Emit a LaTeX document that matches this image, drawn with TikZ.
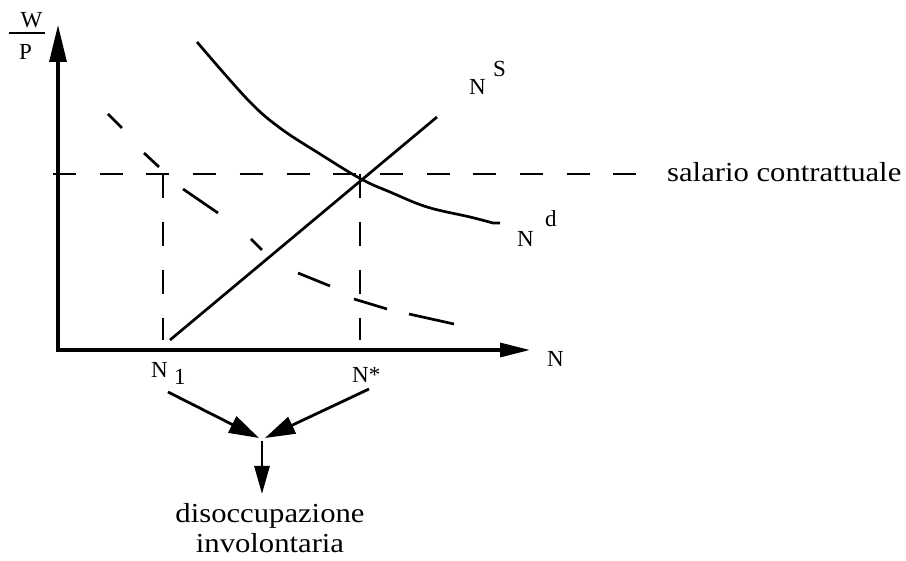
\documentclass[tikz,border=0pt]{standalone}
\usepackage{fontspec}
\setmainfont{Liberation Serif}
\usetikzlibrary{arrows.meta}
\newcommand\labfont{\fontsize{23}{26}\selectfont}
\newcommand\bigfont{\fontsize{27.5}{30}\selectfont}
\newcommand\widetext[1]{\scalebox{1.115}[1]{#1}}
\begin{document}
\begin{tikzpicture}[x=1pt,y=-1pt,
  axis/.style={line width=3.2pt},
  curve/.style={line width=2.7pt},
  dashline/.style={line width=2.9pt, dash pattern=on 23pt off 23.7pt},
  lab/.style={inner sep=0pt, font=\labfont},
  flow/.style={line width=2.8pt, -{Triangle[length=30pt,width=18pt]}}]
\useasboundingbox (0,0) rectangle (906,561);
% coordinates
\coordinate (ytip) at (58,25);
\coordinate (xtip) at (530,350);
\coordinate (ystart) at (58,352);
\coordinate (xstart) at (56,350);
\coordinate (hL) at (53,174);
\coordinate (hR) at (636,174);
\coordinate (v1t) at (163,174);
\coordinate (v1b) at (163,340);
\coordinate (v2t) at (360,174);
\coordinate (v2b) at (360,340);
\coordinate (nsA) at (170,340);
\coordinate (nsB) at (437,117);
% axes
\draw[axis, -{Triangle[length=37pt,width=17pt]}] (ystart) -- (ytip);
\draw[axis, -{Triangle[length=30pt,width=14pt]}] (xstart) -- (xtip);
% dashed guides
\draw[dashline] (hL) -- (hR);
\draw[dashline, dash pattern=on 24pt off 24pt] (v1t) -- (v1b);
\draw[dashline, dash pattern=on 24pt off 24pt] (v2t) -- (v2b);
% supply
\draw[curve] (nsA) -- (nsB);
% demand
\draw[curve] plot[smooth, tension=0.6] coordinates {(197,42) (248,100) (280,128) (320,154) (361,179) (390,192) (427,207) (470,217) (493,223)} -- (500,223);
% shifted demand (irregular dashes)
\draw[curve] (108,114) -- (122,128);
\draw[curve] (144,153) -- (159,167);
\draw[curve] (183,189) -- (218,213);
\draw[curve] (251,239) -- (262,250);
\draw[curve] (298,273) -- (330,286);
\draw[curve] (354,299) -- (387,309);
\draw[curve] (409,314) -- (454,324);
% labels
\node[lab, anchor=base] (W) at (31.5,28) {W};
\node[lab, anchor=base] (P) at (25.5,60) {P};
\draw[line width=2.4pt] (9,33) -- (45,33);
\node[lab, anchor=base west] (xN) at (547,367) {N};
\node[lab, anchor=base west] (NS) at (469,95) {N};
\node[lab, anchor=base west] (NSs) at (493,77) {S};
\node[lab, anchor=base west] (Nd) at (517,247) {N};
\node[lab, anchor=base west] (Nds) at (545,227) {d};
\node[lab, anchor=base west] (N1) at (151,378) {N};
\node[lab, anchor=base west] (N1s) at (174,385) {1};
\node[lab, anchor=base west] (Nstar) at (352,383) {N*};
\node[inner sep=0pt, font=\bigfont, anchor=base west] (sal) at (667,182) {\widetext{salario contrattuale}};
\node[inner sep=0pt, font=\bigfont, anchor=base] (dis) at (270,522) {\widetext{\begin{tabular}[t]{@{}c@{}}disoccupazione\\involontaria\end{tabular}}};
% flow arrows
\coordinate (a1) at (168,392);
\coordinate (a2) at (369,389);
\coordinate (j1) at (259,438);
\coordinate (j2) at (265,438);
\coordinate (jd) at (262,441);
\coordinate (jt) at (262,494);
\draw[flow] (a1) -- (j1);
\draw[flow] (a2) -- (j2);
\draw[line width=2.8pt, -{Triangle[length=28pt,width=15pt]}] (jd) -- (jt);
\end{tikzpicture}
\end{document}
